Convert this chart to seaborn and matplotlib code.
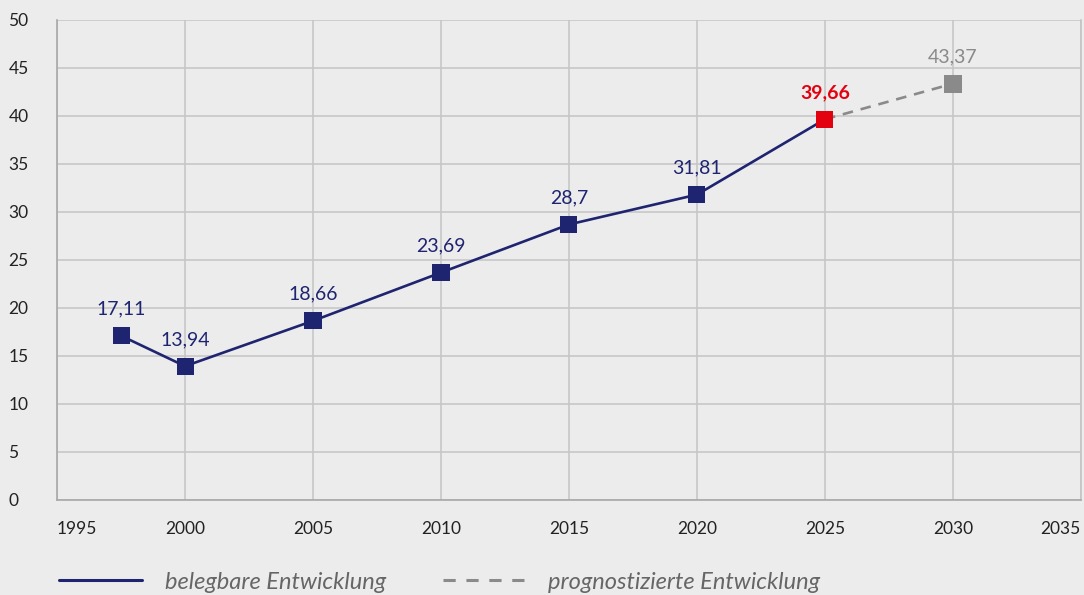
import matplotlib
matplotlib.use("Agg")
import matplotlib.pyplot as plt
from matplotlib.lines import Line2D
import seaborn as sns
import pandas as pd

# Recorded values
years_hist = [1997.5, 2000, 2005, 2010, 2015, 2020, 2025]
values_hist = [17.11, 13.94, 18.66, 23.69, 28.7, 31.81, 39.66]
# Projection
years_forecast = [2025, 2030]
values_forecast = [39.66, 43.37]

x_ticks = [1995, 2000, 2005, 2010, 2015, 2020, 2025, 2030, 2035]
y_ticks = [0, 5, 10, 15, 20, 25, 30, 35, 40, 45, 50]

NAVY = "#1f2470"
RED = "#e3000f"
GREY = "#8a8a8a"
BG = "#ececec"

sns.set_theme(style="whitegrid")
plt.rcParams["font.family"] = ["Lato", "DejaVu Sans"]

hist = pd.DataFrame({"year": years_hist, "value": values_hist})
fc = pd.DataFrame({"year": years_forecast, "value": values_forecast})

fig = plt.figure(figsize=(10.84, 5.95), dpi=100, facecolor=BG)
ax = fig.add_axes([0.0526, 0.1597, 0.9446, 0.8067])
ax.set_facecolor(BG)

sns.lineplot(data=fc, x="year", y="value", ax=ax, color=GREY, lw=1.9,
             dashes=False, zorder=2).lines[-1].set_dashes((4, 3))
sns.lineplot(data=hist, x="year", y="value", ax=ax, color=NAVY, lw=1.9, zorder=3)

pt_colors = [NAVY] * (len(years_hist) - 1) + [RED]
sns.scatterplot(x=years_hist, y=values_hist, ax=ax, marker="s", s=150,
                color=pt_colors, linewidth=0, zorder=4)
sns.scatterplot(x=years_forecast[1:], y=values_forecast[1:], ax=ax, marker="s",
                s=150, color=GREY, linewidth=0, zorder=4)

def fmt(v):
    return f"{v:g}".replace(".", ",")

for x, v, c in zip(years_hist, values_hist, pt_colors):
    ax.annotate(fmt(v), (x, v), xytext=(0, 13), textcoords="offset points",
                ha="center", va="bottom", fontsize=14, color=c,
                fontweight="bold" if c == RED else "normal", zorder=5)
ax.annotate(fmt(values_forecast[1]), (years_forecast[1], values_forecast[1]),
            xytext=(0, 13), textcoords="offset points", ha="center",
            va="bottom", fontsize=14, color=GREY, zorder=5)

ax.set_xlim(1995, 2035)
ax.set_ylim(0, 50)
ax.set_xticks(x_ticks)
ax.set_yticks(y_ticks)
ax.set_xlabel("")
ax.set_ylabel("")
ax.grid(True, color="#c4c4c4", lw=1.1)
ax.tick_params(axis="both", length=0, labelsize=12.5, labelcolor="#222222")
ax.tick_params(axis="y", pad=35)
ax.tick_params(axis="x", pad=15)
for lab in ax.get_yticklabels():
    lab.set_horizontalalignment("left")
xl = ax.get_xticklabels()
xl[0].set_horizontalalignment("left")
xl[-1].set_horizontalalignment("right")

ax.spines["top"].set_visible(False)
for side in ["left", "bottom", "right"]:
    ax.spines[side].set_visible(True)
    ax.spines[side].set_color("#a8a8a8")
    ax.spines[side].set_linewidth(1.2)
ax.spines["right"].set_color("#c4c4c4")

handles = [Line2D([], [], color=NAVY, lw=2.2),
           Line2D([], [], color=GREY, lw=2.2, dashes=(4, 3.5))]
leg = fig.legend(handles, ["belegbare Entwicklung", "prognostizierte Entwicklung"],
                 loc="lower left", bbox_to_anchor=(0.0526, 0.0), ncol=2,
                 frameon=False, fontsize=17, handlelength=3.5,
                 handletextpad=0.97, columnspacing=2.4, borderpad=0.1,
                 borderaxespad=0)
for t in leg.get_texts():
    t.set_fontstyle("italic")
    t.set_color("#666666")

fig.savefig("out.png", dpi=100, facecolor=BG)
